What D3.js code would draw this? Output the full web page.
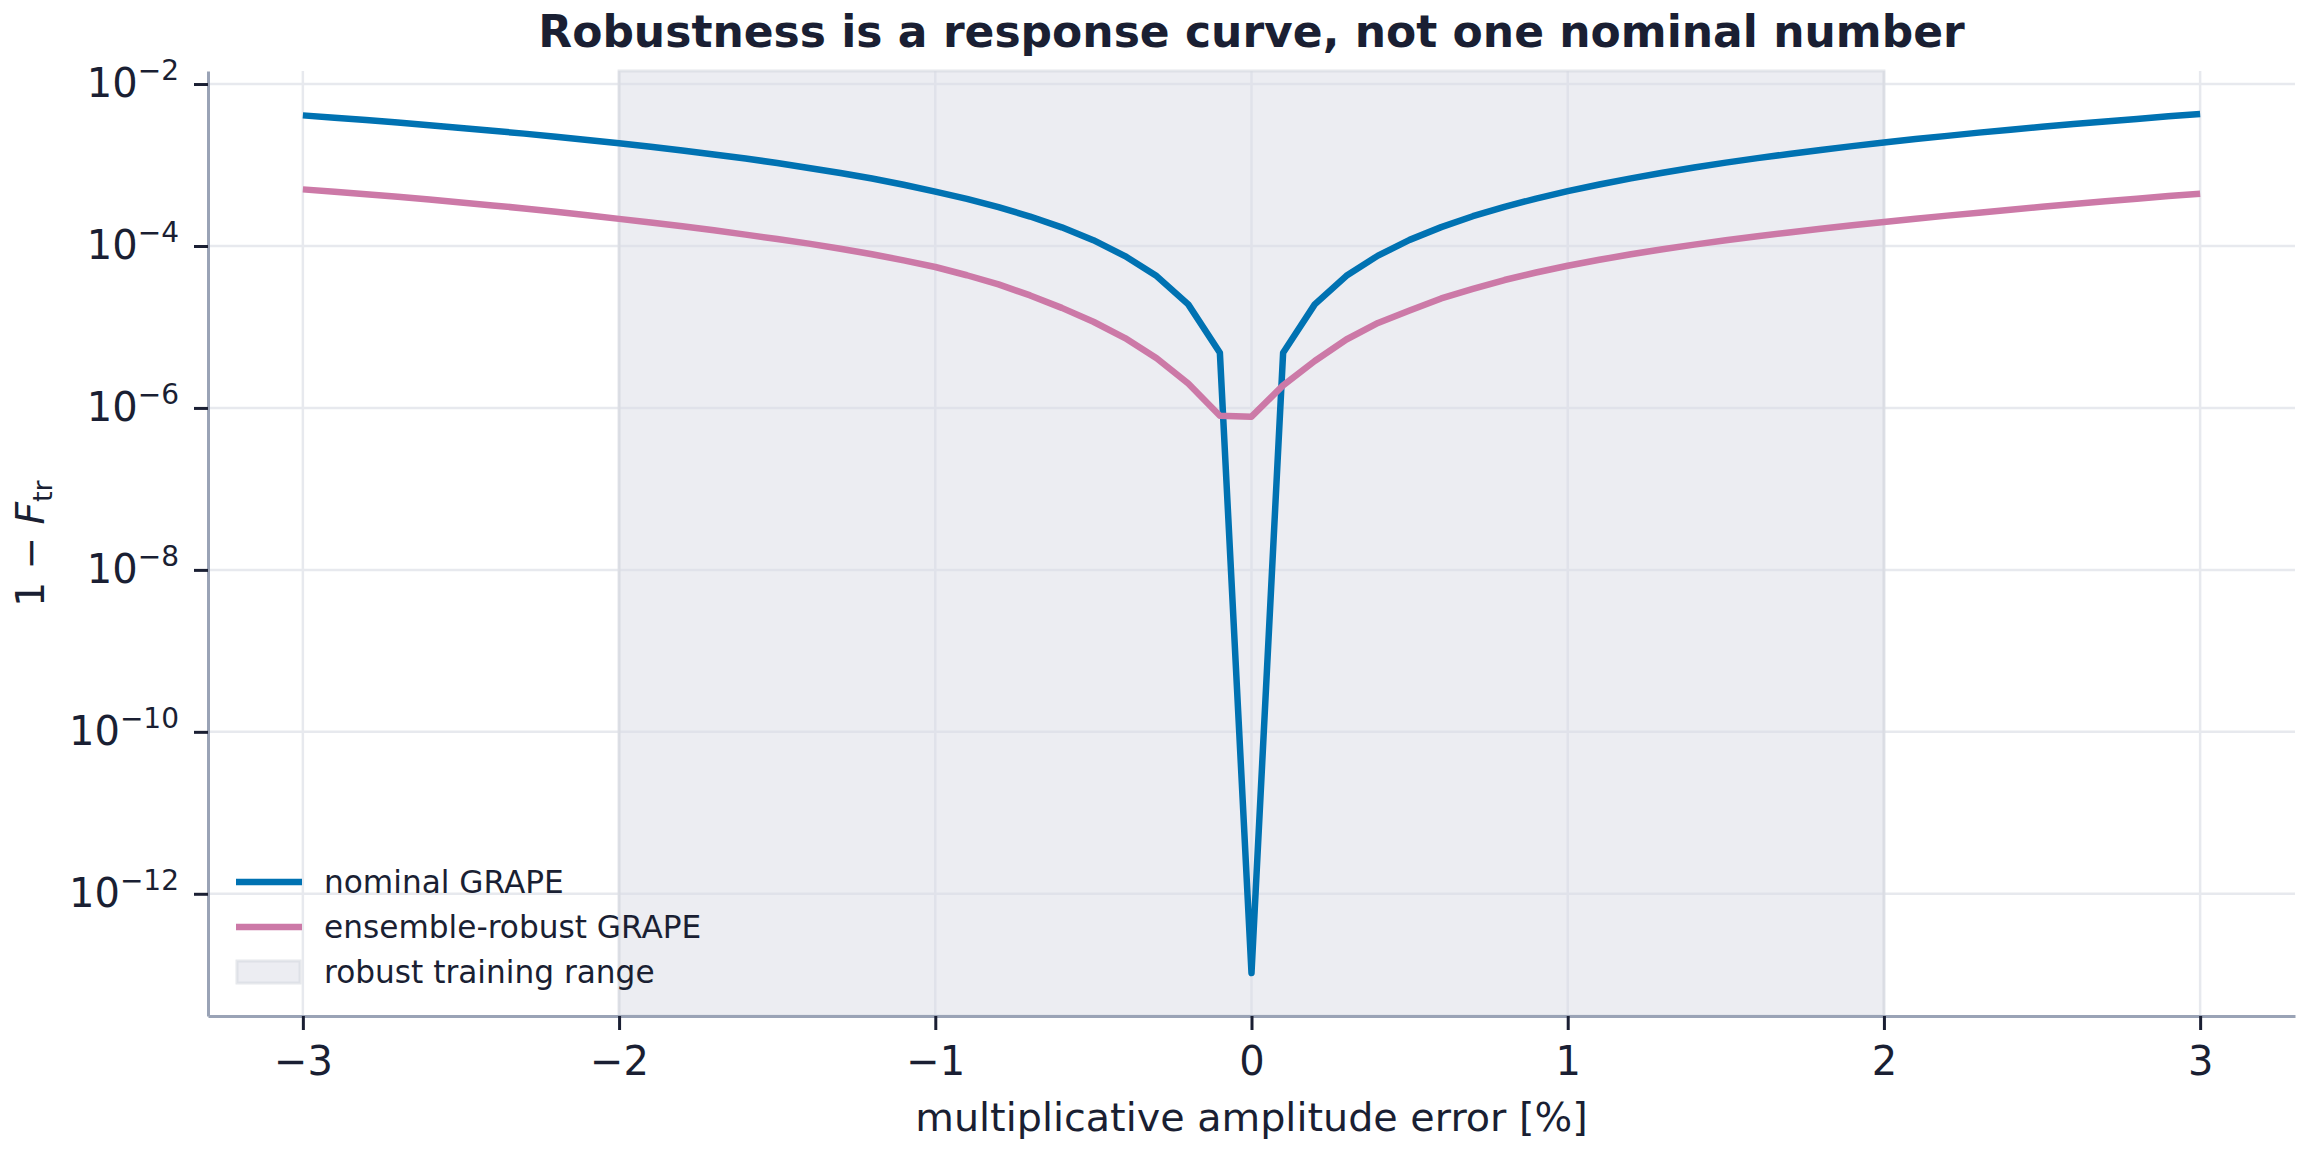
<!DOCTYPE html>
<html>
<head>
<meta charset="utf-8">
<script src="https://cdn.jsdelivr.net/npm/d3@7"></script>
<style>
  body { margin: 0; background: #fff; }
  text { font-family: "DejaVu Sans", sans-serif; fill: #1a1f33; }
</style>
</head>
<body>
<svg id="chart" width="2310" height="1155"></svg>
<script>
// multiplicative amplitude error [%]
const errPct = [
    -3.0, -2.9, -2.8, -2.7, -2.6, -2.5, -2.4, -2.3, -2.2, -2.1,
    -2.0, -1.9, -1.8, -1.7, -1.6, -1.5, -1.4, -1.3, -1.2, -1.1,
    -1.0, -0.9, -0.8, -0.7, -0.6, -0.5, -0.4, -0.3, -0.2, -0.1,
    0.0,
    0.1, 0.2, 0.3, 0.4, 0.5, 0.6, 0.7, 0.8, 0.9, 1.0,
    1.1, 1.2, 1.3, 1.4, 1.5, 1.6, 1.7, 1.8, 1.9, 2.0,
    2.1, 2.2, 2.3, 2.4, 2.5, 2.6, 2.7, 2.8, 2.9, 3.0
];

// 1 - F_tr, nominal GRAPE
const nominalGrape = [
    4.1e-3, 3.84e-3, 3.59e-3, 3.34e-3, 3.10e-3, 2.87e-3, 2.65e-3, 2.44e-3, 2.24e-3, 2.04e-3,
    1.86e-3, 1.68e-3, 1.51e-3, 1.35e-3, 1.20e-3, 1.06e-3, 9.2e-4, 7.95e-4, 6.8e-4, 5.7e-4,
    4.7e-4, 3.82e-4, 3.02e-4, 2.31e-4, 1.70e-4, 1.18e-4, 7.5e-5, 4.25e-5, 1.9e-5, 4.8e-6,
    1.05e-13,
    4.8e-6, 1.9e-5, 4.28e-5, 7.6e-5, 1.19e-4, 1.71e-4, 2.33e-4, 3.04e-4, 3.85e-4, 4.75e-4,
    5.75e-4, 6.84e-4, 8.03e-4, 9.3e-4, 1.07e-3, 1.215e-3, 1.37e-3, 1.535e-3, 1.71e-3, 1.9e-3,
    2.09e-3, 2.29e-3, 2.51e-3, 2.73e-3, 2.96e-3, 3.2e-3, 3.45e-3, 3.71e-3, 3.99e-3, 4.27e-3
];

// 1 - F_tr, ensemble-robust GRAPE
const robustGrape = [
    5.0e-4, 4.68e-4, 4.36e-4, 4.05e-4, 3.75e-4, 3.45e-4, 3.17e-4, 2.91e-4, 2.65e-4, 2.4e-4,
    2.16e-4, 1.95e-4, 1.75e-4, 1.56e-4, 1.38e-4, 1.22e-4, 1.07e-4, 9.25e-5, 7.9e-5, 6.65e-5,
    5.5e-5, 4.35e-5, 3.35e-5, 2.45e-5, 1.72e-5, 1.16e-5, 7.3e-6, 4.1e-6, 2.0e-6, 8.0e-7,
    7.8e-7,
    1.9e-6, 3.8e-6, 7.0e-6, 1.12e-5, 1.6e-5, 2.25e-5, 2.95e-5, 3.8e-5, 4.7e-5, 5.7e-5,
    6.75e-5, 7.9e-5, 9.1e-5, 1.04e-4, 1.18e-4, 1.32e-4, 1.47e-4, 1.63e-4, 1.8e-4, 1.98e-4,
    2.17e-4, 2.37e-4, 2.58e-4, 2.8e-4, 3.05e-4, 3.3e-4, 3.57e-4, 3.84e-4, 4.13e-4, 4.43e-4
];

const trainRange = [-2, 2];
const xTicks = [-3, -2, -1, 0, 1, 2, 3];
const yTickExp = [-2, -4, -6, -8, -10, -12];
const legendNames = ["nominal GRAPE", "ensemble-robust GRAPE", "robust training range"];

const colors = { nominal: "#0072b2", robust: "#cc79a7" };

const area = { left: 208, right: 2295, top: 71, bottom: 1016 };

const svg = d3.select("#chart");

// matplotlib-like 5% margins (log space on y)
const xExt = d3.extent(errPct);
const xPad = (xExt[1] - xExt[0]) * 0.05;
const allY = nominalGrape.concat(robustGrape).map(v => Math.log10(v));
const yExt = d3.extent(allY);
const yPad = (yExt[1] - yExt[0]) * 0.05;

const scaleX = d3.scaleLinear()
    .domain([xExt[0] - xPad, xExt[1] + xPad])
    .range([area.left, area.right]);

const scaleY = d3.scaleLog()
    .domain([Math.pow(10, yExt[0] - yPad), Math.pow(10, yExt[1] + yPad)])
    .range([area.bottom, area.top]);

const yTicks = yTickExp.map(e => Math.pow(10, e));

// grid
const grid = svg.append("g").attr("stroke", "#e7e9ee").attr("stroke-width", 2.5);
grid.selectAll(".gx").data(xTicks).enter().append("line")
    .attr("x1", d => scaleX(d)).attr("x2", d => scaleX(d))
    .attr("y1", area.top).attr("y2", area.bottom);
grid.selectAll(".gy").data(yTicks).enter().append("line")
    .attr("x1", area.left).attr("x2", area.right)
    .attr("y1", d => scaleY(d)).attr("y2", d => scaleY(d));

// robust training range
svg.append("rect")
    .attr("x", scaleX(trainRange[0]))
    .attr("y", area.top)
    .attr("width", scaleX(trainRange[1]) - scaleX(trainRange[0]))
    .attr("height", area.bottom - area.top)
    .attr("fill", "#d9dce5")
    .attr("fill-opacity", 0.5)
    .attr("stroke", "#d5d8e0")
    .attr("stroke-opacity", 0.6)
    .attr("stroke-width", 3);

// curves
const line = d3.line()
    .x((d, i) => scaleX(errPct[i]))
    .y(d => scaleY(d));

svg.append("path")
    .datum(nominalGrape)
    .attr("fill", "none")
    .attr("stroke", colors.nominal)
    .attr("stroke-width", 6.5)
    .attr("stroke-linejoin", "round")
    .attr("d", line);

svg.append("path")
    .datum(robustGrape)
    .attr("fill", "none")
    .attr("stroke", colors.robust)
    .attr("stroke-width", 6.5)
    .attr("stroke-linejoin", "round")
    .attr("d", line);

// axes
const axisX = d3.axisBottom(scaleX)
    .tickValues(xTicks)
    .tickSize(14)
    .tickSizeOuter(0)
    .tickPadding(17)
    .tickFormat(d => d < 0 ? "\u2212" + Math.abs(d) : String(d));

const gx = svg.append("g")
    .attr("transform", `translate(0, ${area.bottom})`)
    .call(axisX);
gx.selectAll(".tick line").attr("stroke", "#1a1f33").attr("stroke-width", 3);
gx.selectAll(".tick text").attr("font-size", 40).attr("font-family", "DejaVu Sans");
gx.select(".domain").attr("stroke", "#9aa3b6").attr("stroke-width", 3);

const axisY = d3.axisLeft(scaleY)
    .tickValues(yTicks)
    .tickSize(14)
    .tickSizeOuter(0)
    .tickPadding(15)
    .tickFormat("");

const gy = svg.append("g")
    .attr("transform", `translate(${area.left}, 0)`)
    .call(axisY);
gy.selectAll(".tick line").attr("stroke", "#1a1f33").attr("stroke-width", 3);
gy.select(".domain").attr("stroke", "#9aa3b6").attr("stroke-width", 3);
gy.selectAll(".tick text")
    .attr("font-size", 40)
    .attr("font-family", "DejaVu Sans")
    .each(function(d) {
        const t = d3.select(this);
        const e = Math.round(Math.log10(d));
        t.append("tspan").text("10");
        t.append("tspan").attr("font-size", 28).attr("dy", "-0.62em").text("\u2212" + Math.abs(e));
    });

// title and labels
svg.append("text")
    .attr("x", (area.left + area.right) / 2)
    .attr("y", 47)
    .attr("text-anchor", "middle")
    .attr("font-size", 44)
    .attr("font-weight", "bold")
    .text("Robustness is a response curve, not one nominal number");

svg.append("text")
    .attr("x", (area.left + area.right) / 2)
    .attr("y", 1131)
    .attr("text-anchor", "middle")
    .attr("font-size", 39.7)
    .text("multiplicative amplitude error [%]");

const yLab = svg.append("text")
    .attr("transform", `translate(44, ${(area.top + area.bottom) / 2}) rotate(-90)`)
    .attr("text-anchor", "middle")
    .attr("font-size", 39);
yLab.append("tspan").text("1 \u2212 ");
yLab.append("tspan").attr("font-style", "italic").text("F");
yLab.append("tspan").attr("font-size", 27).attr("dy", "0.3em").text("tr");

// legend
const legend = svg.append("g");
const rows = [882, 927, 972];
legend.append("line")
    .attr("x1", 236).attr("x2", 302).attr("y1", rows[0]).attr("y2", rows[0])
    .attr("stroke", colors.nominal).attr("stroke-width", 6.5);
legend.append("line")
    .attr("x1", 236).attr("x2", 302).attr("y1", rows[1]).attr("y2", rows[1])
    .attr("stroke", colors.robust).attr("stroke-width", 6.5);
legend.append("rect")
    .attr("x", 237).attr("y", rows[2] - 11).attr("width", 63).attr("height", 22)
    .attr("fill", "#d9dce5").attr("fill-opacity", 0.5)
    .attr("stroke", "#d5d8e0").attr("stroke-opacity", 0.6).attr("stroke-width", 3);

legend.selectAll(".lt")
    .data(legendNames)
    .enter()
    .append("text")
    .attr("x", 324)
    .attr("y", (d, i) => rows[i])
    .attr("dy", "0.36em")
    .attr("font-size", 31.2)
    .text(d => d);
</script>
</body>
</html>
